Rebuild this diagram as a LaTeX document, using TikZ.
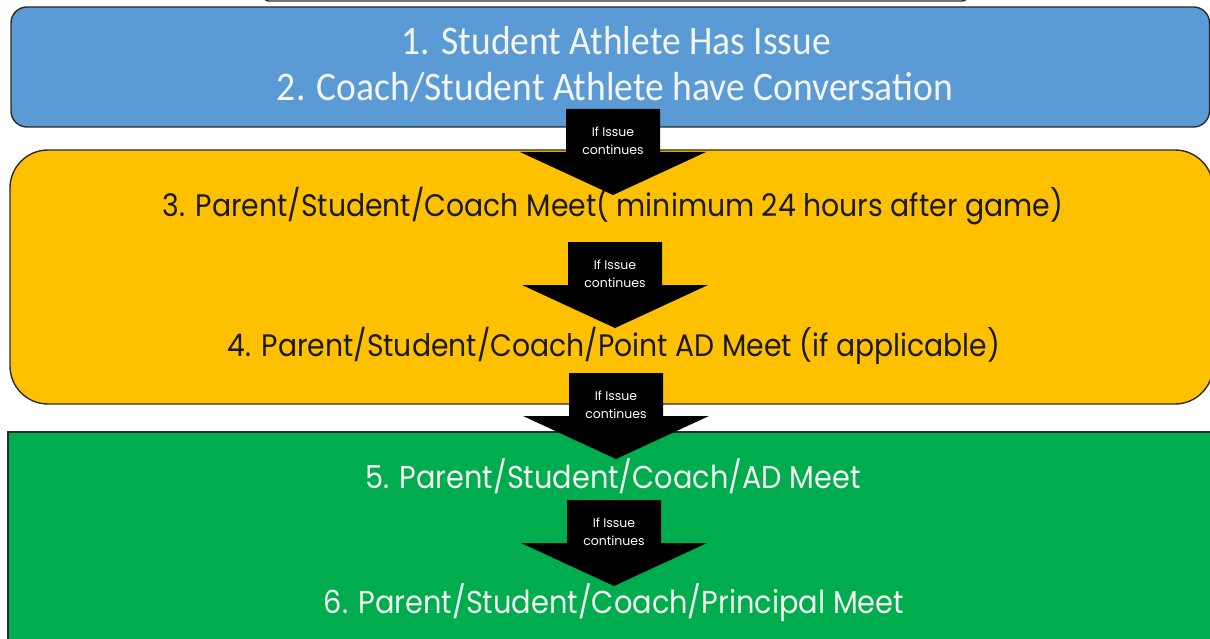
\documentclass[tikz,border=0pt]{standalone}
\usepackage{fontspec}
\setmainfont{Poppins}
\newfontfamily\calib{Carlito}
\newfontfamily\geo{Poppins}
\definecolor{blueF}{HTML}{5B9BD5}
\definecolor{yellowF}{HTML}{FFC000}
\definecolor{greenF}{HTML}{00AD4E}
\definecolor{edge}{HTML}{2B2B2B}
\definecolor{lightT}{HTML}{F4F4F0}
\definecolor{darkT}{HTML}{1A1A1A}
\newcommand\issuearrow[3]{%
  \fill[black] (#2-47,#3) -- (#2+47,#3) -- (#2+47,#3+43) -- (#2+93,#3+43) --
    (#2,#3+86) -- (#2-93,#3+43) -- (#2-47,#3+43) -- cycle;
  \node[smalltxt] (#1) at (#2,#3+32) {If Issue\\continues};}
\begin{document}
\begin{tikzpicture}[x=1pt,y=-1pt,
  panel/.style={draw=edge,line width=1.4pt},
  smalltxt/.style={font=\geo\fontsize{12.5}{18.5}\selectfont,text=white,align=center,inner sep=0pt},
  steptxt/.style={anchor=base,inner sep=0pt}]
\useasboundingbox (0,0) rectangle (1210,639);
\begin{scope}
\clip (0,0) rectangle (1210,639);
\draw[panel,fill=white,rounded corners=6pt] (263,-30) rectangle (968,1);
\draw[panel,fill=blueF,rounded corners=16pt] (11,7) rectangle (1209.5,127);
\draw[panel,fill=yellowF,rounded corners=38pt] (10,150) rectangle (1213,404);
\draw[panel,fill=greenF] (8,432) rectangle (1230,660);
\end{scope}
\node[steptxt] (s1) at (616.5,55) {\scalebox{1}[1.08]{\resizebox{429pt}{!}{\calib\color{lightT}1. Student Athlete Has Issue}}};
\node[steptxt] (s2) at (615,101) {\scalebox{1}[1.08]{\resizebox{676pt}{!}{\calib\color{lightT}2. Coach/Student Athlete have Conversation}}};
\node[steptxt] (s3) at (613,217) {\scalebox{1}[1.1]{\resizebox{900pt}{!}{\geo\color{darkT}3. Parent/Student/Coach Meet( minimum 24 hours after game)}}};
\node[steptxt] (s4) at (614,356) {\scalebox{1}[1.1]{\resizebox{772pt}{!}{\geo\color{darkT}4. Parent/Student/Coach/Point AD Meet (if applicable)}}};
\node[steptxt] (s5) at (613,488) {\scalebox{1}[1.1]{\resizebox{495pt}{!}{\geo\color{lightT}5. Parent/Student/Coach/AD Meet}}};
\node[steptxt] (s6) at (614,613) {\scalebox{1}[1.1]{\resizebox{580pt}{!}{\geo\color{lightT}6. Parent/Student/Coach/Principal Meet}}};
\issuearrow{a1}{613}{109}
\issuearrow{a2}{615}{242}
\issuearrow{a3}{616}{373}
\issuearrow{a4}{614}{500}
\end{tikzpicture}
\end{document}
